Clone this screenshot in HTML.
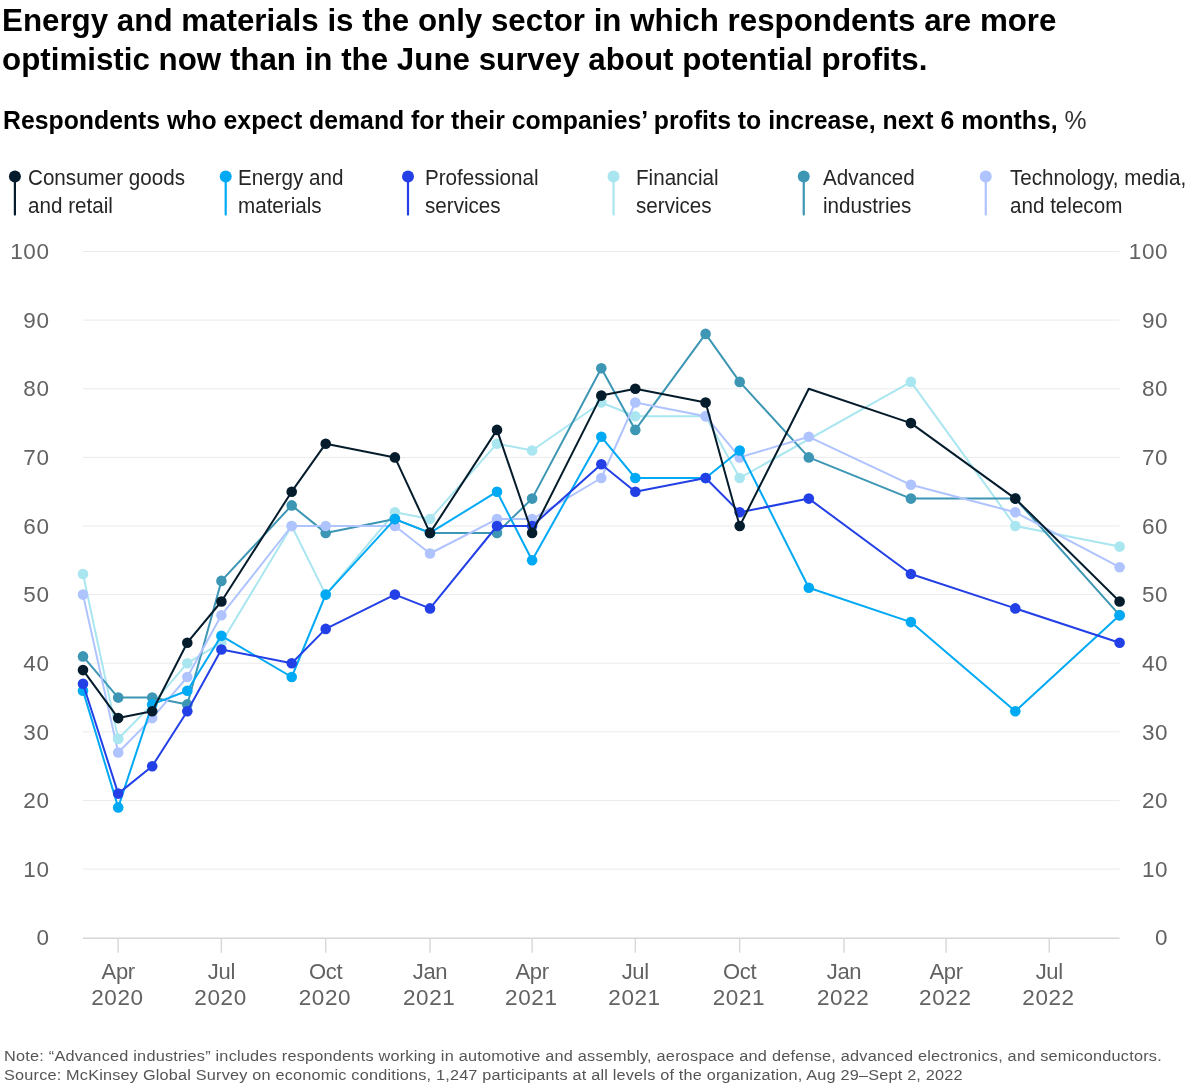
<!DOCTYPE html>
<html lang="en"><head><meta charset="utf-8"><title>Chart</title>
<style>
html,body{margin:0;padding:0;background:#fff;}
body{width:1200px;height:1091px;position:relative;overflow:hidden;font-family:"Liberation Sans",sans-serif;}
.chart{position:absolute;left:0;top:0;}
.t{position:absolute;white-space:nowrap;line-height:1;}
.title{font-weight:bold;font-size:31.5px;color:#000;left:1.5px;transform:scaleX(0.994);transform-origin:0 0;}
.sub{font-weight:bold;font-size:25.5px;color:#000;left:3px;transform:scaleX(0.973);transform-origin:0 0;}
.sub span{font-weight:normal;color:#333;}
.leg{font-size:21.5px;color:#262626;transform:scaleX(0.959);transform-origin:0 0;}
.ax{font-size:22.5px;color:#626262;letter-spacing:0.6px;}
.axl{text-align:right;width:49.6px;left:0;}
.axr{text-align:right;width:68.2px;left:1100px;}
.xl{text-align:center;width:80px;}
.xm{font-size:22px;letter-spacing:-0.3px;}
.foot{font-size:15.5px;color:#555;left:4px;letter-spacing:0.21px;transform:scaleX(1.05);transform-origin:0 0;}
</style></head><body>

<svg class="chart" width="1200" height="1091" viewBox="0 0 1200 1091">
<line x1="83.0" x2="1119.6" y1="869.12" y2="869.12" stroke="#ebebeb" stroke-width="1"/>
<line x1="83.0" x2="1119.6" y1="800.50" y2="800.50" stroke="#ebebeb" stroke-width="1"/>
<line x1="83.0" x2="1119.6" y1="731.88" y2="731.88" stroke="#ebebeb" stroke-width="1"/>
<line x1="83.0" x2="1119.6" y1="663.25" y2="663.25" stroke="#ebebeb" stroke-width="1"/>
<line x1="83.0" x2="1119.6" y1="594.62" y2="594.62" stroke="#ebebeb" stroke-width="1"/>
<line x1="83.0" x2="1119.6" y1="526.00" y2="526.00" stroke="#ebebeb" stroke-width="1"/>
<line x1="83.0" x2="1119.6" y1="457.38" y2="457.38" stroke="#ebebeb" stroke-width="1"/>
<line x1="83.0" x2="1119.6" y1="388.75" y2="388.75" stroke="#ebebeb" stroke-width="1"/>
<line x1="83.0" x2="1119.6" y1="320.12" y2="320.12" stroke="#ebebeb" stroke-width="1"/>
<line x1="83.0" x2="1119.6" y1="251.50" y2="251.50" stroke="#ebebeb" stroke-width="1"/>
<line x1="83.0" x2="1119.6" y1="938.2" y2="938.2" stroke="#d6d6d6" stroke-width="1.6"/>
<line x1="118.16" x2="118.16" y1="938.2" y2="952.7" stroke="#d9d9d9" stroke-width="1.5"/>
<line x1="221.36" x2="221.36" y1="938.2" y2="952.7" stroke="#d9d9d9" stroke-width="1.5"/>
<line x1="325.71" x2="325.71" y1="938.2" y2="952.7" stroke="#d9d9d9" stroke-width="1.5"/>
<line x1="430.05" x2="430.05" y1="938.2" y2="952.7" stroke="#d9d9d9" stroke-width="1.5"/>
<line x1="532.12" x2="532.12" y1="938.2" y2="952.7" stroke="#d9d9d9" stroke-width="1.5"/>
<line x1="635.32" x2="635.32" y1="938.2" y2="952.7" stroke="#d9d9d9" stroke-width="1.5"/>
<line x1="739.66" x2="739.66" y1="938.2" y2="952.7" stroke="#d9d9d9" stroke-width="1.5"/>
<line x1="844.01" x2="844.01" y1="938.2" y2="952.7" stroke="#d9d9d9" stroke-width="1.5"/>
<line x1="946.08" x2="946.08" y1="938.2" y2="952.7" stroke="#d9d9d9" stroke-width="1.5"/>
<line x1="1049.28" x2="1049.28" y1="938.2" y2="952.7" stroke="#d9d9d9" stroke-width="1.5"/>
<g><polyline points="83.0,574.0 118.2,738.7 152.2,704.4 187.3,663.2 221.4,642.7 291.7,526.0 325.7,594.6 394.9,512.3 430.0,519.1 497.0,443.7 532.1,450.5 601.3,402.5 635.3,416.2 705.6,416.2 739.7,478.0 910.9,381.9 1015.3,526.0 1119.6,546.6" fill="none" stroke="#aae6f0" stroke-width="2" stroke-linejoin="round"/>
<circle cx="83.0" cy="574.0" r="5.3" fill="#aae6f0"/>
<circle cx="118.2" cy="738.7" r="5.3" fill="#aae6f0"/>
<circle cx="152.2" cy="704.4" r="5.3" fill="#aae6f0"/>
<circle cx="187.3" cy="663.2" r="5.3" fill="#aae6f0"/>
<circle cx="221.4" cy="642.7" r="5.3" fill="#aae6f0"/>
<circle cx="291.7" cy="526.0" r="5.3" fill="#aae6f0"/>
<circle cx="325.7" cy="594.6" r="5.3" fill="#aae6f0"/>
<circle cx="394.9" cy="512.3" r="5.3" fill="#aae6f0"/>
<circle cx="430.0" cy="519.1" r="5.3" fill="#aae6f0"/>
<circle cx="497.0" cy="443.7" r="5.3" fill="#aae6f0"/>
<circle cx="532.1" cy="450.5" r="5.3" fill="#aae6f0"/>
<circle cx="601.3" cy="402.5" r="5.3" fill="#aae6f0"/>
<circle cx="635.3" cy="416.2" r="5.3" fill="#aae6f0"/>
<circle cx="705.6" cy="416.2" r="5.3" fill="#aae6f0"/>
<circle cx="739.7" cy="478.0" r="5.3" fill="#aae6f0"/>
<circle cx="910.9" cy="381.9" r="5.3" fill="#aae6f0"/>
<circle cx="1015.3" cy="526.0" r="5.3" fill="#aae6f0"/>
<circle cx="1119.6" cy="546.6" r="5.3" fill="#aae6f0"/>
</g>
<g><polyline points="83.0,656.4 118.2,697.6 152.2,697.6 187.3,704.4 221.4,580.9 291.7,505.4 325.7,532.9 394.9,519.1 430.0,532.9 497.0,532.9 532.1,498.6 601.3,368.2 635.3,429.9 705.6,333.9 739.7,381.9 808.8,457.4 910.9,498.6 1015.3,498.6 1119.6,615.2" fill="none" stroke="#3c96b4" stroke-width="2" stroke-linejoin="round"/>
<circle cx="83.0" cy="656.4" r="5.3" fill="#3c96b4"/>
<circle cx="118.2" cy="697.6" r="5.3" fill="#3c96b4"/>
<circle cx="152.2" cy="697.6" r="5.3" fill="#3c96b4"/>
<circle cx="187.3" cy="704.4" r="5.3" fill="#3c96b4"/>
<circle cx="221.4" cy="580.9" r="5.3" fill="#3c96b4"/>
<circle cx="291.7" cy="505.4" r="5.3" fill="#3c96b4"/>
<circle cx="325.7" cy="532.9" r="5.3" fill="#3c96b4"/>
<circle cx="394.9" cy="519.1" r="5.3" fill="#3c96b4"/>
<circle cx="430.0" cy="532.9" r="5.3" fill="#3c96b4"/>
<circle cx="497.0" cy="532.9" r="5.3" fill="#3c96b4"/>
<circle cx="532.1" cy="498.6" r="5.3" fill="#3c96b4"/>
<circle cx="601.3" cy="368.2" r="5.3" fill="#3c96b4"/>
<circle cx="635.3" cy="429.9" r="5.3" fill="#3c96b4"/>
<circle cx="705.6" cy="333.9" r="5.3" fill="#3c96b4"/>
<circle cx="739.7" cy="381.9" r="5.3" fill="#3c96b4"/>
<circle cx="808.8" cy="457.4" r="5.3" fill="#3c96b4"/>
<circle cx="910.9" cy="498.6" r="5.3" fill="#3c96b4"/>
<circle cx="1015.3" cy="498.6" r="5.3" fill="#3c96b4"/>
<circle cx="1119.6" cy="615.2" r="5.3" fill="#3c96b4"/>
</g>
<g><polyline points="83.0,594.6 118.2,752.5 152.2,718.1 187.3,677.0 221.4,615.2 291.7,526.0 325.7,526.0 394.9,526.0 430.0,553.5 497.0,519.1 532.1,519.1 601.3,478.0 635.3,402.5 705.6,416.2 739.7,457.4 808.8,436.8 910.9,484.8 1015.3,512.3 1119.6,567.2" fill="none" stroke="#afc3ff" stroke-width="2" stroke-linejoin="round"/>
<circle cx="83.0" cy="594.6" r="5.3" fill="#afc3ff"/>
<circle cx="118.2" cy="752.5" r="5.3" fill="#afc3ff"/>
<circle cx="152.2" cy="718.1" r="5.3" fill="#afc3ff"/>
<circle cx="187.3" cy="677.0" r="5.3" fill="#afc3ff"/>
<circle cx="221.4" cy="615.2" r="5.3" fill="#afc3ff"/>
<circle cx="291.7" cy="526.0" r="5.3" fill="#afc3ff"/>
<circle cx="325.7" cy="526.0" r="5.3" fill="#afc3ff"/>
<circle cx="394.9" cy="526.0" r="5.3" fill="#afc3ff"/>
<circle cx="430.0" cy="553.5" r="5.3" fill="#afc3ff"/>
<circle cx="497.0" cy="519.1" r="5.3" fill="#afc3ff"/>
<circle cx="532.1" cy="519.1" r="5.3" fill="#afc3ff"/>
<circle cx="601.3" cy="478.0" r="5.3" fill="#afc3ff"/>
<circle cx="635.3" cy="402.5" r="5.3" fill="#afc3ff"/>
<circle cx="705.6" cy="416.2" r="5.3" fill="#afc3ff"/>
<circle cx="739.7" cy="457.4" r="5.3" fill="#afc3ff"/>
<circle cx="808.8" cy="436.8" r="5.3" fill="#afc3ff"/>
<circle cx="910.9" cy="484.8" r="5.3" fill="#afc3ff"/>
<circle cx="1015.3" cy="512.3" r="5.3" fill="#afc3ff"/>
<circle cx="1119.6" cy="567.2" r="5.3" fill="#afc3ff"/>
</g>
<circle cx="118.2" cy="738.7" r="5.3" fill="#aae6f0"/>
<g><polyline points="83.0,690.7 118.2,807.4 152.2,704.4 187.3,690.7 221.4,635.8 291.7,677.0 325.7,594.6 394.9,519.1 430.0,532.9 497.0,491.7 532.1,560.3 601.3,436.8 635.3,478.0 705.6,478.0 739.7,450.5 808.8,587.8 910.9,622.1 1015.3,711.3 1119.6,615.2" fill="none" stroke="#00a9f4" stroke-width="2" stroke-linejoin="round"/>
<circle cx="83.0" cy="690.7" r="5.3" fill="#00a9f4"/>
<circle cx="118.2" cy="807.4" r="5.3" fill="#00a9f4"/>
<circle cx="152.2" cy="704.4" r="5.3" fill="#00a9f4"/>
<circle cx="187.3" cy="690.7" r="5.3" fill="#00a9f4"/>
<circle cx="221.4" cy="635.8" r="5.3" fill="#00a9f4"/>
<circle cx="291.7" cy="677.0" r="5.3" fill="#00a9f4"/>
<circle cx="325.7" cy="594.6" r="5.3" fill="#00a9f4"/>
<circle cx="394.9" cy="519.1" r="5.3" fill="#00a9f4"/>
<circle cx="430.0" cy="532.9" r="5.3" fill="#00a9f4"/>
<circle cx="497.0" cy="491.7" r="5.3" fill="#00a9f4"/>
<circle cx="532.1" cy="560.3" r="5.3" fill="#00a9f4"/>
<circle cx="601.3" cy="436.8" r="5.3" fill="#00a9f4"/>
<circle cx="635.3" cy="478.0" r="5.3" fill="#00a9f4"/>
<circle cx="705.6" cy="478.0" r="5.3" fill="#00a9f4"/>
<circle cx="739.7" cy="450.5" r="5.3" fill="#00a9f4"/>
<circle cx="808.8" cy="587.8" r="5.3" fill="#00a9f4"/>
<circle cx="910.9" cy="622.1" r="5.3" fill="#00a9f4"/>
<circle cx="1015.3" cy="711.3" r="5.3" fill="#00a9f4"/>
<circle cx="1119.6" cy="615.2" r="5.3" fill="#00a9f4"/>
</g>
<g><polyline points="83.0,683.8 118.2,793.6 152.2,766.2 187.3,711.3 221.4,649.5 291.7,663.2 325.7,628.9 394.9,594.6 430.0,608.4 497.0,526.0 532.1,526.0 601.3,464.2 635.3,491.7 705.6,478.0 739.7,512.3 808.8,498.6 910.9,574.0 1015.3,608.4 1119.6,642.7" fill="none" stroke="#2240e6" stroke-width="2" stroke-linejoin="round"/>
<circle cx="83.0" cy="683.8" r="5.3" fill="#2240e6"/>
<circle cx="118.2" cy="793.6" r="5.3" fill="#2240e6"/>
<circle cx="152.2" cy="766.2" r="5.3" fill="#2240e6"/>
<circle cx="187.3" cy="711.3" r="5.3" fill="#2240e6"/>
<circle cx="221.4" cy="649.5" r="5.3" fill="#2240e6"/>
<circle cx="291.7" cy="663.2" r="5.3" fill="#2240e6"/>
<circle cx="325.7" cy="628.9" r="5.3" fill="#2240e6"/>
<circle cx="394.9" cy="594.6" r="5.3" fill="#2240e6"/>
<circle cx="430.0" cy="608.4" r="5.3" fill="#2240e6"/>
<circle cx="497.0" cy="526.0" r="5.3" fill="#2240e6"/>
<circle cx="532.1" cy="526.0" r="5.3" fill="#2240e6"/>
<circle cx="601.3" cy="464.2" r="5.3" fill="#2240e6"/>
<circle cx="635.3" cy="491.7" r="5.3" fill="#2240e6"/>
<circle cx="705.6" cy="478.0" r="5.3" fill="#2240e6"/>
<circle cx="739.7" cy="512.3" r="5.3" fill="#2240e6"/>
<circle cx="808.8" cy="498.6" r="5.3" fill="#2240e6"/>
<circle cx="910.9" cy="574.0" r="5.3" fill="#2240e6"/>
<circle cx="1015.3" cy="608.4" r="5.3" fill="#2240e6"/>
<circle cx="1119.6" cy="642.7" r="5.3" fill="#2240e6"/>
</g>
<g><polyline points="83.0,670.1 118.2,718.1 152.2,711.3 187.3,642.7 221.4,601.5 291.7,491.7 325.7,443.7 394.9,457.4 430.0,532.9 497.0,429.9 532.1,532.9 601.3,395.6 635.3,388.8 705.6,402.5 739.7,526.0 808.8,388.8 910.9,423.1 1015.3,498.6 1119.6,601.5" fill="none" stroke="#051c2c" stroke-width="2" stroke-linejoin="round"/>
<circle cx="83.0" cy="670.1" r="5.3" fill="#051c2c"/>
<circle cx="118.2" cy="718.1" r="5.3" fill="#051c2c"/>
<circle cx="152.2" cy="711.3" r="5.3" fill="#051c2c"/>
<circle cx="187.3" cy="642.7" r="5.3" fill="#051c2c"/>
<circle cx="221.4" cy="601.5" r="5.3" fill="#051c2c"/>
<circle cx="291.7" cy="491.7" r="5.3" fill="#051c2c"/>
<circle cx="325.7" cy="443.7" r="5.3" fill="#051c2c"/>
<circle cx="394.9" cy="457.4" r="5.3" fill="#051c2c"/>
<circle cx="430.0" cy="532.9" r="5.3" fill="#051c2c"/>
<circle cx="497.0" cy="429.9" r="5.3" fill="#051c2c"/>
<circle cx="532.1" cy="532.9" r="5.3" fill="#051c2c"/>
<circle cx="601.3" cy="395.6" r="5.3" fill="#051c2c"/>
<circle cx="635.3" cy="388.8" r="5.3" fill="#051c2c"/>
<circle cx="705.6" cy="402.5" r="5.3" fill="#051c2c"/>
<circle cx="739.7" cy="526.0" r="5.3" fill="#051c2c"/>
<circle cx="910.9" cy="423.1" r="5.3" fill="#051c2c"/>
<circle cx="1015.3" cy="498.6" r="5.3" fill="#051c2c"/>
<circle cx="1119.6" cy="601.5" r="5.3" fill="#051c2c"/>
</g>
<line x1="14.9" x2="14.9" y1="176.4" y2="214.6" stroke="#051c2c" stroke-width="2.2" stroke-linecap="round"/><circle cx="14.9" cy="176.4" r="6" fill="#051c2c"/>
<line x1="225.7" x2="225.7" y1="176.4" y2="214.6" stroke="#00a9f4" stroke-width="2.2" stroke-linecap="round"/><circle cx="225.7" cy="176.4" r="6" fill="#00a9f4"/>
<line x1="408" x2="408" y1="176.4" y2="214.6" stroke="#2240e6" stroke-width="2.2" stroke-linecap="round"/><circle cx="408" cy="176.4" r="6" fill="#2240e6"/>
<line x1="613.5" x2="613.5" y1="176.4" y2="214.6" stroke="#aae6f0" stroke-width="2.2" stroke-linecap="round"/><circle cx="613.5" cy="176.4" r="6" fill="#aae6f0"/>
<line x1="803.75" x2="803.75" y1="176.4" y2="214.6" stroke="#3c96b4" stroke-width="2.2" stroke-linecap="round"/><circle cx="803.75" cy="176.4" r="6" fill="#3c96b4"/>
<line x1="985.75" x2="985.75" y1="176.4" y2="214.6" stroke="#afc3ff" stroke-width="2.2" stroke-linecap="round"/><circle cx="985.75" cy="176.4" r="6" fill="#afc3ff"/>
</svg>
<div class="t title" style="top:4.6px">Energy and materials is the only sector in which respondents are more</div>
<div class="t title" style="top:43.6px">optimistic now than in the June survey about potential profits.</div>
<div class="t sub" style="top:108px">Respondents who expect demand for their companies’ profits to increase, next 6 months, <span>%</span></div>
<div class="t leg" style="left:28.3px;top:168px">Consumer goods</div><div class="t leg" style="left:28.3px;top:195.7px">and retail</div>
<div class="t leg" style="left:237.8px;top:168px">Energy and</div><div class="t leg" style="left:237.8px;top:195.7px">materials</div>
<div class="t leg" style="left:425px;top:168px">Professional</div><div class="t leg" style="left:425px;top:195.7px">services</div>
<div class="t leg" style="left:635.8px;top:168px">Financial</div><div class="t leg" style="left:635.8px;top:195.7px">services</div>
<div class="t leg" style="left:823px;top:168px">Advanced</div><div class="t leg" style="left:823px;top:195.7px">industries</div>
<div class="t leg" style="left:1010px;top:168px">Technology, media,</div><div class="t leg" style="left:1010px;top:195.7px">and telecom</div>
<div class="t ax axl" style="top:927.4px">0</div><div class="t ax axr" style="top:927.4px">0</div>
<div class="t ax axl" style="top:858.7px">10</div><div class="t ax axr" style="top:858.7px">10</div>
<div class="t ax axl" style="top:790.1px">20</div><div class="t ax axr" style="top:790.1px">20</div>
<div class="t ax axl" style="top:721.5px">30</div><div class="t ax axr" style="top:721.5px">30</div>
<div class="t ax axl" style="top:652.9px">40</div><div class="t ax axr" style="top:652.9px">40</div>
<div class="t ax axl" style="top:584.2px">50</div><div class="t ax axr" style="top:584.2px">50</div>
<div class="t ax axl" style="top:515.6px">60</div><div class="t ax axr" style="top:515.6px">60</div>
<div class="t ax axl" style="top:447.0px">70</div><div class="t ax axr" style="top:447.0px">70</div>
<div class="t ax axl" style="top:378.4px">80</div><div class="t ax axr" style="top:378.4px">80</div>
<div class="t ax axl" style="top:309.7px">90</div><div class="t ax axr" style="top:309.7px">90</div>
<div class="t ax axl" style="top:241.1px">100</div><div class="t ax axr" style="top:241.1px">100</div>
<div class="t ax xl xm" style="left:78.2px;top:961px">Apr</div><div class="t ax xl" style="left:77.4px;top:987px">2020</div>
<div class="t ax xl xm" style="left:181.4px;top:961px">Jul</div><div class="t ax xl" style="left:180.6px;top:987px">2020</div>
<div class="t ax xl xm" style="left:285.7px;top:961px">Oct</div><div class="t ax xl" style="left:284.9px;top:987px">2020</div>
<div class="t ax xl xm" style="left:390.0px;top:961px">Jan</div><div class="t ax xl" style="left:389.2px;top:987px">2021</div>
<div class="t ax xl xm" style="left:492.1px;top:961px">Apr</div><div class="t ax xl" style="left:491.3px;top:987px">2021</div>
<div class="t ax xl xm" style="left:595.3px;top:961px">Jul</div><div class="t ax xl" style="left:594.5px;top:987px">2021</div>
<div class="t ax xl xm" style="left:699.7px;top:961px">Oct</div><div class="t ax xl" style="left:698.9px;top:987px">2021</div>
<div class="t ax xl xm" style="left:804.0px;top:961px">Jan</div><div class="t ax xl" style="left:803.2px;top:987px">2022</div>
<div class="t ax xl xm" style="left:906.1px;top:961px">Apr</div><div class="t ax xl" style="left:905.3px;top:987px">2022</div>
<div class="t ax xl xm" style="left:1009.3px;top:961px">Jul</div><div class="t ax xl" style="left:1008.5px;top:987px">2022</div>
<div class="t foot" style="top:1047.5px">Note: “Advanced industries” includes respondents working in automotive and assembly, aerospace and defense, advanced electronics, and semiconductors.</div>
<div class="t foot" style="top:1067px;letter-spacing:0.18px">Source: McKinsey Global Survey on economic conditions, 1,247 participants at all levels of the organization, Aug 29–Sept 2, 2022</div>
</body></html>
